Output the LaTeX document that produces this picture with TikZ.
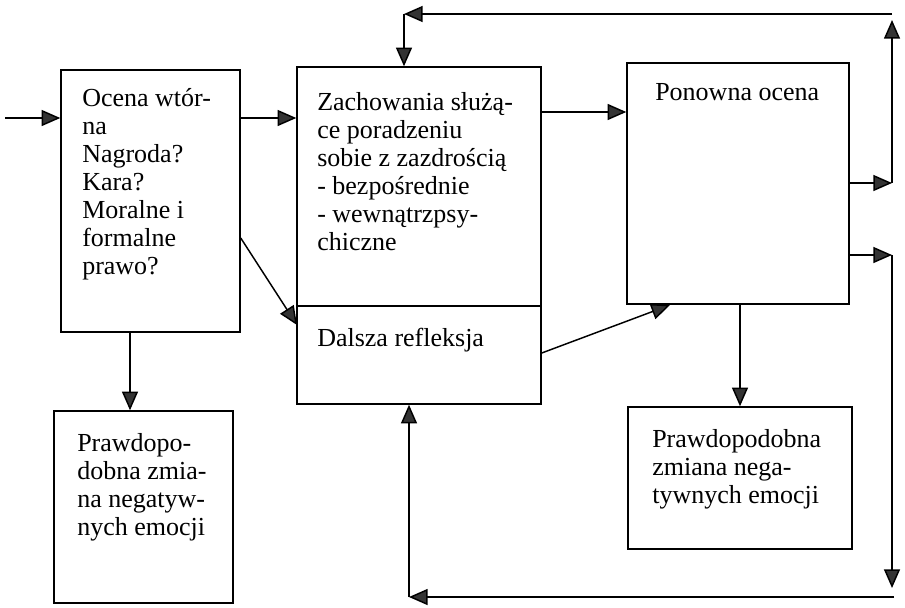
\documentclass[tikz,border=0pt]{standalone}
\usepackage{fontspec}
\setmainfont{Liberation Serif}
\usetikzlibrary{arrows.meta,fit}
\newcommand{\mlines}[1]{\vtop{\baselineskip=21pt\lineskiplimit=-20pt\halign{##\hfil\cr#1\crcr}}}
\tikzset{
  box/.style={draw, line width=1.1pt, inner sep=0pt},
  txt/.style={anchor=base west, inner sep=0pt, font=\fontsize{19.5}{21}\selectfont},
  arr/.style={line width=1.1pt, -{Triangle[length=14pt,width=12pt,fill=black!80]}},
}
\begin{document}
\begin{tikzpicture}[x=0.75pt,y=-0.75pt]
\useasboundingbox (0,0) rectangle (905,607);
% boxes
\node[box, fit={(61,70) (240,332)}] (A) {};
\node[box, fit={(297,67) (541,404)}] (B) {};
\node[box, fit={(627,63) (849,304)}] (C) {};
\node[box, fit={(54,411) (233,603)}] (D) {};
\node[box, fit={(628,407) (852,549)}] (E) {};
\coordinate (dv) at (0,306);
\draw[line width=1.1pt] (B.west |- dv) -- (B.east |- dv);
% texts
\node[txt] (tA) at (82,106) {\mlines{Ocena wtór-\cr na\cr Nagroda?\cr Kara?\cr Moralne i\cr formalne\cr prawo?}};
\node[txt] (tB) at (317,110) {\mlines{Zachowania służą-\cr ce poradzeniu\cr sobie z zazdrością\cr - bezpośrednie\cr - wewnątrzpsy-\cr chiczne}};
\node[txt] (tB2) at (317,346) {Dalsza refleksja};
\node[txt] (tC) at (655,100) {Ponowna ocena};
\node[txt] (tD) at (77,451) {\mlines{Prawdopo-\cr dobna zmia-\cr na negatyw-\cr nych emocji}};
\node[txt] (tE) at (652,447) {\mlines{Prawdopodobna\cr zmiana nega-\cr tywnych emocji}};
% coordinates
\coordinate (in) at (5,118);
\coordinate (d1) at (0,238);
\coordinate (d2) at (297,325);
\coordinate (ad) at (130,0);
\coordinate (bc) at (0,112);
\coordinate (e1) at (0,353);
\coordinate (e2) at (670,305);
\coordinate (ce) at (740,0);
\coordinate (r1) at (892,183);
\coordinate (rt) at (892,20);
\coordinate (tr) at (892,14);
\coordinate (tl) at (404,14);
\coordinate (r2) at (892,255);
\coordinate (rb) at (892,588);
\coordinate (br) at (894,597);
\coordinate (bl) at (409,597);
% connectors
\draw[arr] (in) -- (A.west |- in);
\draw[arr] (A.east |- in) -- (B.west |- in);
\draw[arr] (A.east |- d1) -- (d2);
\draw[arr] (A.south -| ad) -- (D.north -| ad);
\draw[arr] (B.east |- bc) -- (C.west |- bc);
\draw[arr] (B.east |- e1) -- (e2);
\draw[arr] (C.south -| ce) -- (E.north -| ce);
\draw[arr] (C.east |- r1) -- (r1);
\draw[arr] (r1) -- (rt);
\draw[arr] (tr) -- (tl);
\draw[arr] (tl) -- (B.north -| tl);
\draw[arr] (C.east |- r2) -- (r2);
\draw[arr] (r2) -- (rb);
\draw[arr] (br) -- (bl);
\draw[arr] (bl) -- (B.south -| bl);
\end{tikzpicture}
\end{document}
